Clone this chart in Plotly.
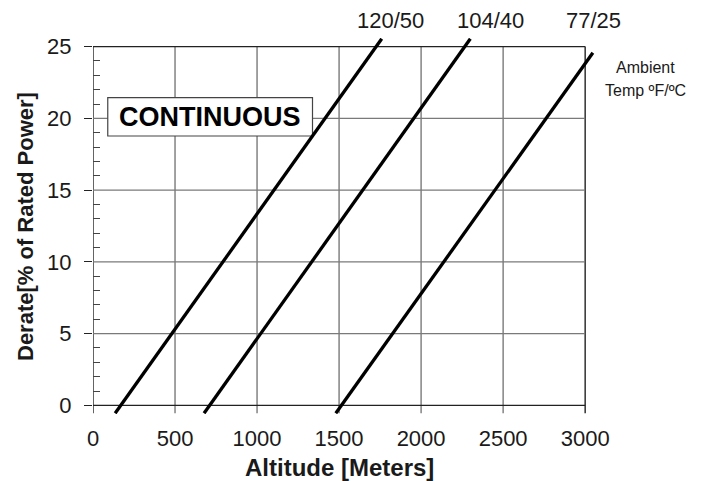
import plotly.graph_objects as go

# Data
alt_120_50 = [135, 1760]
derate_120_50 = [-0.55, 25.55]
alt_104_40 = [677, 2300]
derate_104_40 = [-0.55, 25.55]
alt_77_25 = [1480, 3047]
derate_77_25 = [-0.55, 24.57]

series_labels = ["120/50", "104/40", "77/25"]
label_px = [390, 490, 593]

x_ticks = [0, 500, 1000, 1500, 2000, 2500, 3000]
y_ticks = [0, 5, 10, 15, 20, 25]

FONT = "Liberation Sans, Arial, sans-serif"
TXT = "#1a1a1a"

# page body has an 8px margin; compensate so the plot lands where the reference has it
L, T, R, B = 85, 30, 115, 67
W, H = 702, 473
PW = W - L - R
PH = H - T - B


def px_to_paper(px, py):
    return (px - 8 - L) / PW, (H + 8 - B - py) / PH


fig = go.Figure()
for xs, ys in [(alt_120_50, derate_120_50), (alt_104_40, derate_104_40), (alt_77_25, derate_77_25)]:
    fig.add_trace(go.Scatter(x=xs, y=ys, mode="lines",
                             line=dict(color="black", width=3.3),
                             showlegend=False, hoverinfo="skip"))

shapes = []
xmax = x_ticks[-1]
ymax = y_ticks[-1]
for xv in x_ticks:
    edge = xv in (x_ticks[0], x_ticks[-1])
    shapes.append(dict(type="line", xref="x", yref="y", x0=xv, x1=xv, y0=-0.55, y1=ymax,
                       line=dict(color="#222222" if edge else "#7a7a7a", width=1.4),
                       layer="below"))
for yv in y_ticks:
    edge = yv in (y_ticks[0], y_ticks[-1])
    shapes.append(dict(type="line", xref="x", yref="y", x0=0, x1=xmax, y0=yv, y1=yv,
                       line=dict(color="#222222" if edge else "#7a7a7a", width=1.4),
                       layer="below"))
shapes.append(dict(type="rect", xref="x", yref="y", x0=90, x1=1338, y0=18.77, y1=21.45,
                   fillcolor="white", line=dict(color="#444444", width=1.2), layer="below"))

annotations = []
annotations.append(dict(x=(90 + 1338) / 2, y=(18.77 + 21.45) / 2, xref="x", yref="y",
                        text="<b>CONTINUOUS</b>", showarrow=False,
                        font=dict(family=FONT, size=27, color="black")))
for lpx, lab in zip(label_px, series_labels):
    ax, ay = px_to_paper(lpx, 20)
    annotations.append(dict(x=ax, y=ay, xref="paper", yref="paper", xanchor="center",
                            yanchor="middle", text=lab, showarrow=False,
                            font=dict(family=FONT, size=22, color=TXT)))
ax, ay = px_to_paper(645, 68)
annotations.append(dict(x=ax, y=ay, xref="paper", yref="paper", xanchor="center",
                        yanchor="middle", text="Ambient", showarrow=False,
                        font=dict(family=FONT, size=16, color=TXT)))
ax, ay = px_to_paper(645, 90)
annotations.append(dict(x=ax, y=ay, xref="paper", yref="paper", xanchor="center",
                        yanchor="middle", text="Temp ºF/ºC", showarrow=False,
                        font=dict(family=FONT, size=16, color=TXT)))
ax, ay = px_to_paper(339, 467)
annotations.append(dict(x=ax, y=ay, xref="paper", yref="paper", xanchor="center",
                        yanchor="middle", text="<b>Altitude [Meters]</b>", showarrow=False,
                        font=dict(family=FONT, size=24, color=TXT)))
ax, ay = px_to_paper(25, 227)
annotations.append(dict(x=ax, y=ay, xref="paper", yref="paper", xanchor="center",
                        yanchor="middle", textangle=-90,
                        text="<b>Derate[% of Rated Power]</b>", showarrow=False,
                        font=dict(family=FONT, size=22, color=TXT)))

fig.update_layout(
    width=W, height=H,
    margin=dict(l=L, r=R, t=T, b=B),
    paper_bgcolor="white", plot_bgcolor="white",
    shapes=shapes, annotations=annotations,
    xaxis=dict(range=[0, 3060], tickvals=x_ticks, showgrid=False, zeroline=False,
               showline=False, ticks="", ticklabelstandoff=9,
               tickfont=dict(family=FONT, size=22, color=TXT)),
    yaxis=dict(range=[-0.6, 25.6], tickvals=y_ticks, showgrid=False, zeroline=False,
               showline=False, ticks="outside", ticklen=8, tickwidth=1.4, tickcolor="#222222",
               ticklabelstandoff=8,
               minor=dict(ticks="inside", ticklen=7, tickwidth=1, tickcolor="#444444",
                          tickvals=[v for v in range(1, 25) if v % 5 != 0], showgrid=False),
               tickfont=dict(family=FONT, size=22, color=TXT)),
)

fig.write_html("out.html")
